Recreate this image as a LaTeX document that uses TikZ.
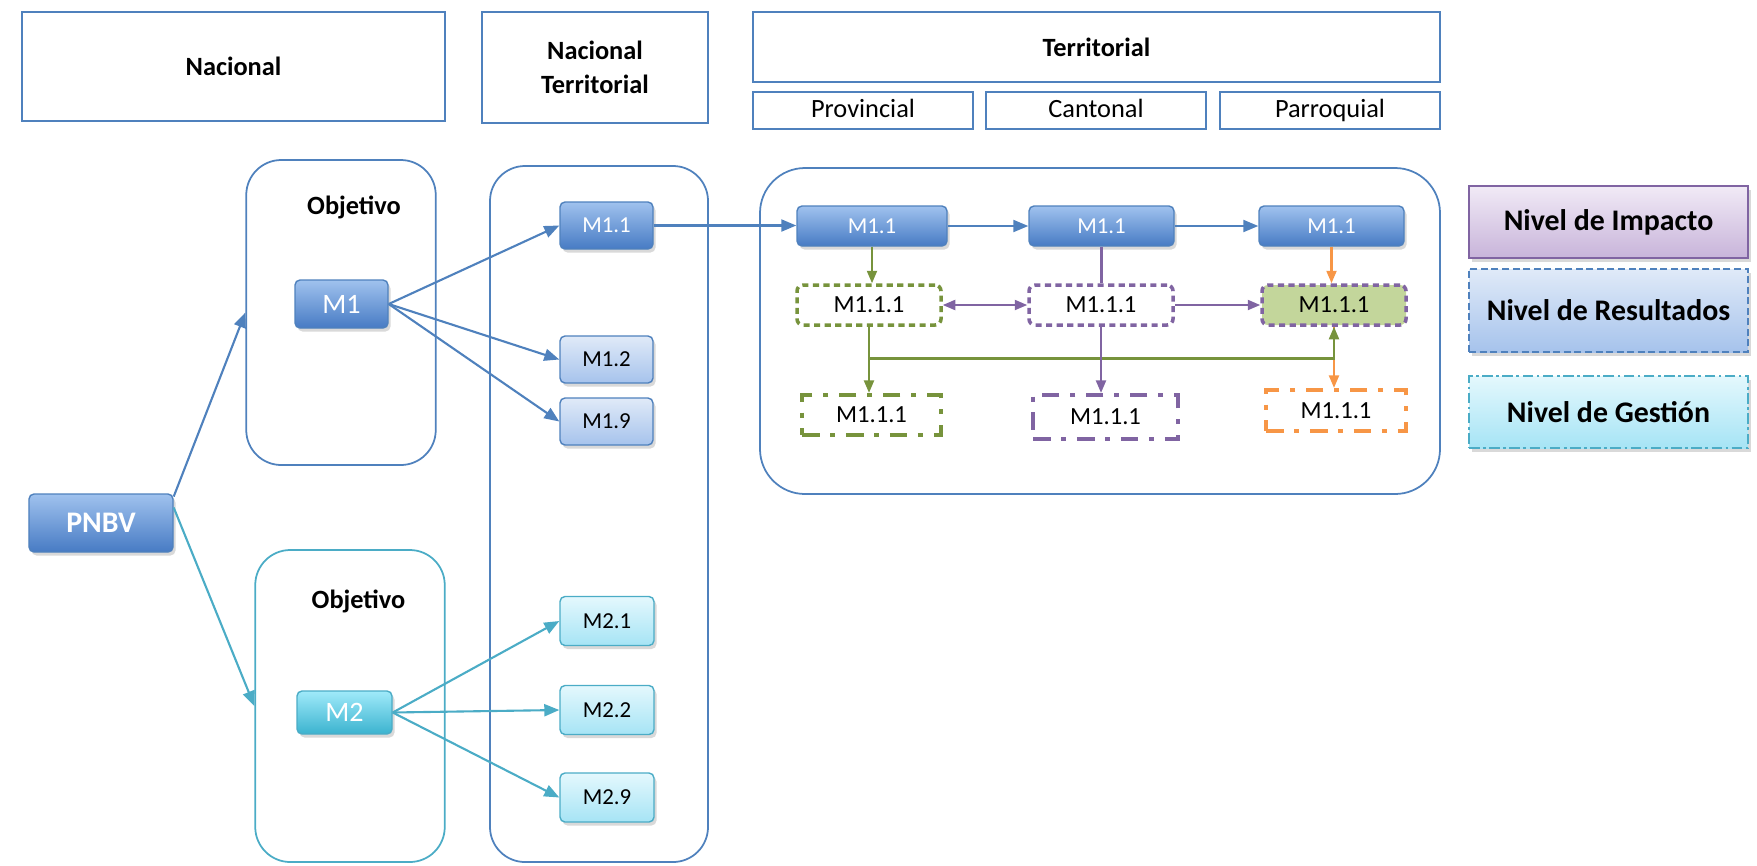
\documentclass[tikz,border=0pt]{standalone}
\usepackage{fontspec}
\setmainfont{Carlito}
\usetikzlibrary{positioning, arrows.meta, shadows}
\definecolor{azul}{HTML}{4F81BD}
\definecolor{azulA}{HTML}{A0C2EE}
\definecolor{azulB}{HTML}{477BC4}
\definecolor{azulC}{HTML}{E0EAF8}
\definecolor{azulD}{HTML}{A6C3EC}
\definecolor{cian}{HTML}{4BACC6}
\definecolor{cianA}{HTML}{A0EAFA}
\definecolor{cianB}{HTML}{3BB3CF}
\definecolor{cianC}{HTML}{E4F8FD}
\definecolor{cianD}{HTML}{A6E4F5}
\definecolor{verde}{HTML}{77933C}
\definecolor{verdeclaro}{HTML}{C3D69B}
\definecolor{morado}{HTML}{8064A2}
\definecolor{moradoA}{HTML}{F1EAF6}
\definecolor{moradoB}{HTML}{C8B4DA}
\definecolor{naranja}{HTML}{F79646}

\begin{document}
\begin{tikzpicture}[x=0.2mm, y=-0.2mm,
    titulo/.style={
      draw=azul, line width=1pt, inner sep=0pt, align=center,
      font=\fontsize{15}{19}\selectfont\bfseries
    },
    subtitulo/.style={
      draw=azul, line width=1pt, inner sep=0pt, minimum width=44mm,
      minimum height=7.4mm, text height=0.85em, text depth=0.05em,
      font=\fontsize{15}{18}\selectfont
    },
    grupo/.style={draw=azul, line width=1pt, rounded corners=7mm, inner sep=0pt},
    etiqueta/.style={font=\fontsize{15}{18}\selectfont\bfseries},
    sombra/.style={drop shadow={opacity=0.3, shadow xshift=0.5mm, shadow yshift=-0.7mm}},
    nodoazul/.style={
      draw=azul, line width=0.8pt, rounded corners=1mm, inner sep=0pt, sombra,
      top color=azulA, bottom color=azulB, text=white
    },
    nodoclaro/.style={
      nodoazul, top color=azulC, bottom color=azulD, text=black,
      minimum width=18.6mm, minimum height=9.4mm, font=\fontsize{13}{15}\selectfont
    },
    nodocian/.style={
      nodoazul, draw=cian, top color=cianA, bottom color=cianB
    },
    nodocianclaro/.style={
      nodoazul, draw=cian, top color=cianC, bottom color=cianD, text=black,
      minimum width=18.8mm, minimum height=9.8mm, font=\fontsize{13}{15}\selectfont
    },
    punteado/.style={
      rounded corners=1.2mm, line width=2pt, dash pattern=on 3.5pt off 2.5pt,
      minimum width=28.8mm, minimum height=8mm, inner sep=0pt,
      font=\fontsize{14}{16}\selectfont
    },
    rayapunto/.style={
      line width=2.4pt, dash pattern=on 10pt off 6pt on 3pt off 6pt,
      minimum width=28mm, minimum height=8.2mm, inner sep=0pt,
      font=\fontsize{14}{16}\selectfont
    },
    leyenda/.style={
      line width=1pt, inner sep=0pt, minimum width=55.8mm, sombra,
      font=\fontsize{17}{20}\selectfont\bfseries
    },
    flecha/.style={-{Triangle[length=3mm, width=2.4mm]}, line width=1.2pt, azul},
    flechacian/.style={flecha, cian},
    flechita/.style={-{Triangle[length=2.5mm, width=2mm]}, line width=1.2pt},
    dobleflecha/.style={{Triangle[length=2.5mm, width=2mm]}-{Triangle[length=2.5mm, width=2mm]}, line width=1.2pt},
  ]
  \useasboundingbox (0,0) rectangle (1757,865);

  \node[titulo, minimum width=84.6mm, minimum height=21.8mm] (nac) at (233.5,66.5) {Nacional};
  \node[titulo, minimum width=45.2mm, minimum height=22.2mm] (nacter) at (595,67.5) {Nacional\\Territorial};
  \node[titulo, minimum width=137.4mm, minimum height=14mm] (ter) at (1096.5,47) {Territorial};
  \node[subtitulo] (prov) at (863,110.5) {Provincial};
  \node[subtitulo] (cant) at (1096,110.5) {Cantonal};
  \node[subtitulo] (parr) at (1330,110.5) {Parroquial};

  \node[grupo, minimum width=37.9mm, minimum height=61mm] (obj1) at (341,312.5) {};
  \node[grupo, draw=cian, minimum width=37.9mm, minimum height=62.4mm] (obj2) at (350,706) {};
  \node[grupo, minimum width=43.6mm, minimum height=139.2mm] (metas) at (599,514) {};
  \node[grupo, rounded corners=9mm, minimum width=136mm, minimum height=65.2mm] (terr) at (1100,331) {};
  \node[etiqueta] (objtxt1) at (354,207) {Objetivo};
  \node[etiqueta] (objtxt2) at (358.5,601.5) {Objetivo};

  \node[nodoazul, minimum width=28.8mm, minimum height=11.6mm,
    font=\fontsize{17}{20}\selectfont\bfseries] (pnbv) at (101,523) {PNBV};
  \node[nodoazul, minimum width=18.6mm, minimum height=9.6mm,
    font=\fontsize{16}{19}\selectfont] (m1) at (341.5,304) {M1};
  \node[nodocian, minimum width=19mm, minimum height=8.6mm,
    font=\fontsize{16}{19}\selectfont] (m2) at (344.5,712.5) {M2};

  \node[nodoazul, minimum width=18.6mm, minimum height=9.4mm,
    font=\fontsize{13}{15}\selectfont] (m11) at (606.5,225.5) {M1.1};
  \node[nodoclaro] (m12) at (606.5,359.5) {M1.2};
  \node[nodoclaro] (m19) at (606.5,421.5) {M1.9};
  \node[nodocianclaro] (m21) at (607,621) {M2.1};
  \node[nodocianclaro] (m22) at (607,710) {M2.2};
  \node[nodocianclaro] (m29) at (607,797.5) {M2.9};

  \node[nodoazul, minimum width=30mm, minimum height=8mm,
    font=\fontsize{13}{15}\selectfont] (tprov) at (872,226) {M1.1};
  \node[nodoazul, minimum width=29mm, minimum height=8mm,
    font=\fontsize{13}{15}\selectfont] (tcant) at (1101.5,226) {M1.1};
  \node[nodoazul, minimum width=29mm, minimum height=8mm,
    font=\fontsize{13}{15}\selectfont] (tparr) at (1331.5,226) {M1.1};

  \node[punteado, draw=verde] (rprov) at (869,305) {M1.1.1};
  \node[punteado, draw=morado] (rcant) at (1101,305) {M1.1.1};
  \node[punteado, draw=morado, fill=verdeclaro] (rparr) at (1334,305) {M1.1.1};

  \node[rayapunto, draw=verde, minimum width=27.8mm, minimum height=8mm] (gprov) at (871.5,415) {M1.1.1};
  \node[rayapunto, draw=morado, minimum width=29mm, minimum height=8.8mm] (gcant) at (1105.5,417) {M1.1.1};
  \node[rayapunto, draw=naranja] (gparr) at (1336,410.5) {M1.1.1};

  \node[leyenda, draw=morado, top color=moradoA, bottom color=moradoB,
    minimum height=14.4mm] (imp) at (1608.5,222) {Nivel de Impacto};
  \node[leyenda, draw=azul, dash pattern=on 4pt off 2pt, top color=azulC,
    bottom color=azulD, minimum height=16.6mm] (res) at (1608.5,310.5) {Nivel de Resultados};
  \node[leyenda, draw=cian, dash pattern=on 6pt off 2pt on 1.5pt off 2pt,
    top color=cianC, bottom color=cianD, minimum height=14.4mm] (ges) at (1608.5,412) {Nivel de Gestión};

  \draw[flecha] (pnbv.20) -- (obj1.west);
  \draw[flechacian] (pnbv.12) -- (obj2.west);
  \draw[flecha] (m1.east) -- (m11.west);
  \draw[flecha] (m1.east) -- (m12.west);
  \draw[flecha] (m1.east) -- (m19.west);
  \draw[flechacian] (m2.east) -- (m21.west);
  \draw[flechacian] (m2.east) -- (m22.west);
  \draw[flechacian] (m2.east) -- (m29.west);

  \draw[flecha] (m11.east) -- (m11.east -| tprov.west);
  \draw[flecha] (tprov.east) -- (tcant.west);
  \draw[flecha] (tcant.east) -- (tparr.west);

  \draw[flechita, verde] (tprov.south) -- (tprov.south |- rprov.north);
  \draw[line width=1.2pt, morado] (tcant.south) -- (tcant.south |- rcant.north);
  \draw[flechita, naranja] (tparr.south) -- (tparr.south |- rparr.north);
  \draw[dobleflecha, morado] (rprov.east) -- (rcant.west);
  \draw[flechita, morado] (rcant.east) -- (rparr.west);
  \draw[flechita, naranja] (rparr.south) -- (rparr.south |- gparr.north);
  \draw[flechita, verde] (rprov.south) -- (rprov.south |- gprov.north);
  \draw[flechita, verde] (rprov.south |- 0,358.5) -| (rparr.south);
  \draw[flechita, morado] (rcant.south) -- (rcant.south |- gcant.north);
\end{tikzpicture}
\end{document}
